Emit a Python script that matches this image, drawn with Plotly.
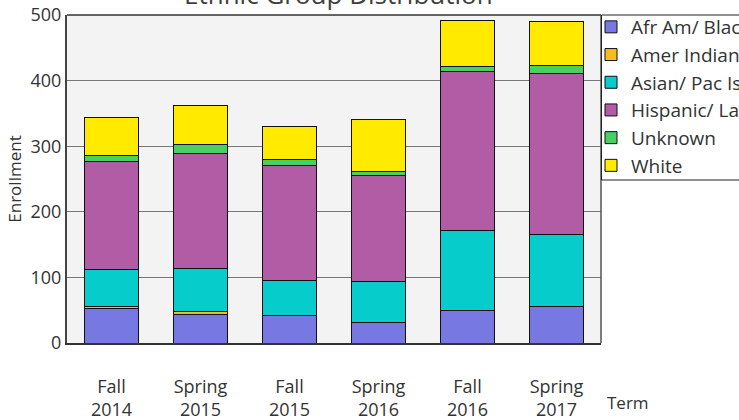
import plotly.graph_objects as go

terms = ["Fall<br>2014", "Spring<br>2015", "Fall<br>2015", "Spring<br>2016", "Fall<br>2016", "Spring<br>2017"]
afr_am = [52, 44, 42, 32, 50, 56]
amer_indian = [3, 4, 0, 0, 0, 0]
asian_pac = [57, 65, 54, 62, 122, 110]
hispanic = [165, 176, 175, 162, 242, 245]
unknown = [9, 13, 8, 6, 8, 12]
white = [58, 60, 51, 79, 69, 67]

series = [
    ("Afr Am/ Black", afr_am, "#7878e2"),
    ("Amer Indian", amer_indian, "#f8bb24"),
    ("Asian/ Pac Isl", asian_pac, "#06cccc"),
    ("Hispanic/ Latino", hispanic, "#b25ca6"),
    ("Unknown", unknown, "#48d062"),
    ("White", white, "#ffea00"),
]

font = "Open Sans"
L, R, T, B = 67, 138, 15, 77
W, H = 739, 420
pw = W - L - R
ph = H - T - B

def px_x(x):
    return (x - L) / pw

def px_y(y):
    return (H - B - y) / ph

fig = go.Figure()
for name, vals, col in series:
    fig.add_trace(go.Bar(
        x=terms, y=vals, name=name,
        marker=dict(color=col, line=dict(color="#111111", width=1)),
        width=0.6,
    ))

fig.update_layout(
    barmode="stack",
    width=W, height=H,
    margin=dict(l=L, r=R, t=T, b=B, autoexpand=False),
    paper_bgcolor="white",
    plot_bgcolor="#f3f3f3",
    font=dict(family=font, color="#333333", size=17),
    showlegend=True,
    legend=dict(
        x=px_x(591), y=px_y(8), xanchor="left", yanchor="top",
        borderwidth=0,
        font=dict(size=19, color="#333333"),
        traceorder="normal",
        bgcolor="rgba(0,0,0,0)",
        itemwidth=30,
    ),
    xaxis=dict(
        showline=True, linecolor="#333333", linewidth=2,
        mirror=False, ticks="", ticklabelstandoff=26,
        tickfont=dict(size=18, color="#333333"),
        showgrid=False,
    ),
    yaxis=dict(
        range=[0, 500], dtick=100,
        showline=True, linecolor="#444444", linewidth=2,
        ticks="",
        showgrid=True, gridcolor="#777777", gridwidth=1,
        tickfont=dict(size=18, color="#333333"),
        title=dict(text="Enrollment", font=dict(size=17, color="#333333"), standoff=5),
        zeroline=False,
    ),
    annotations=[
        dict(text="Ethnic Group Distribution", x=px_x(338), y=1.0, xref="paper", yref="paper",
             xanchor="center", yanchor="bottom", yshift=1, showarrow=False,
             font=dict(size=26, color="#404040", family=font)),
        dict(text="Term", x=px_x(628), y=px_y(402), xref="paper", yref="paper",
             xanchor="center", yanchor="middle",
             showarrow=False, font=dict(size=17, color="#333333")),
    ],
    shapes=[
        dict(type="line", xref="paper", yref="paper", x0=0, x1=1, y0=1, y1=1,
             line=dict(color="#333333", width=1.5)),
        dict(type="line", xref="paper", yref="paper", x0=1, x1=1, y0=0, y1=1,
             line=dict(color="#555555", width=1.5)),
        dict(type="rect", xref="paper", yref="paper", x0=px_x(601.5), x1=px_x(760),
             y0=px_y(180), y1=px_y(15), line=dict(color="#222222", width=1),
             fillcolor="rgba(0,0,0,0)"),
    ],
)

fig.write_html("out.html", config={"displayModeBar": False},
               post_script="document.body.style.margin='0';")
